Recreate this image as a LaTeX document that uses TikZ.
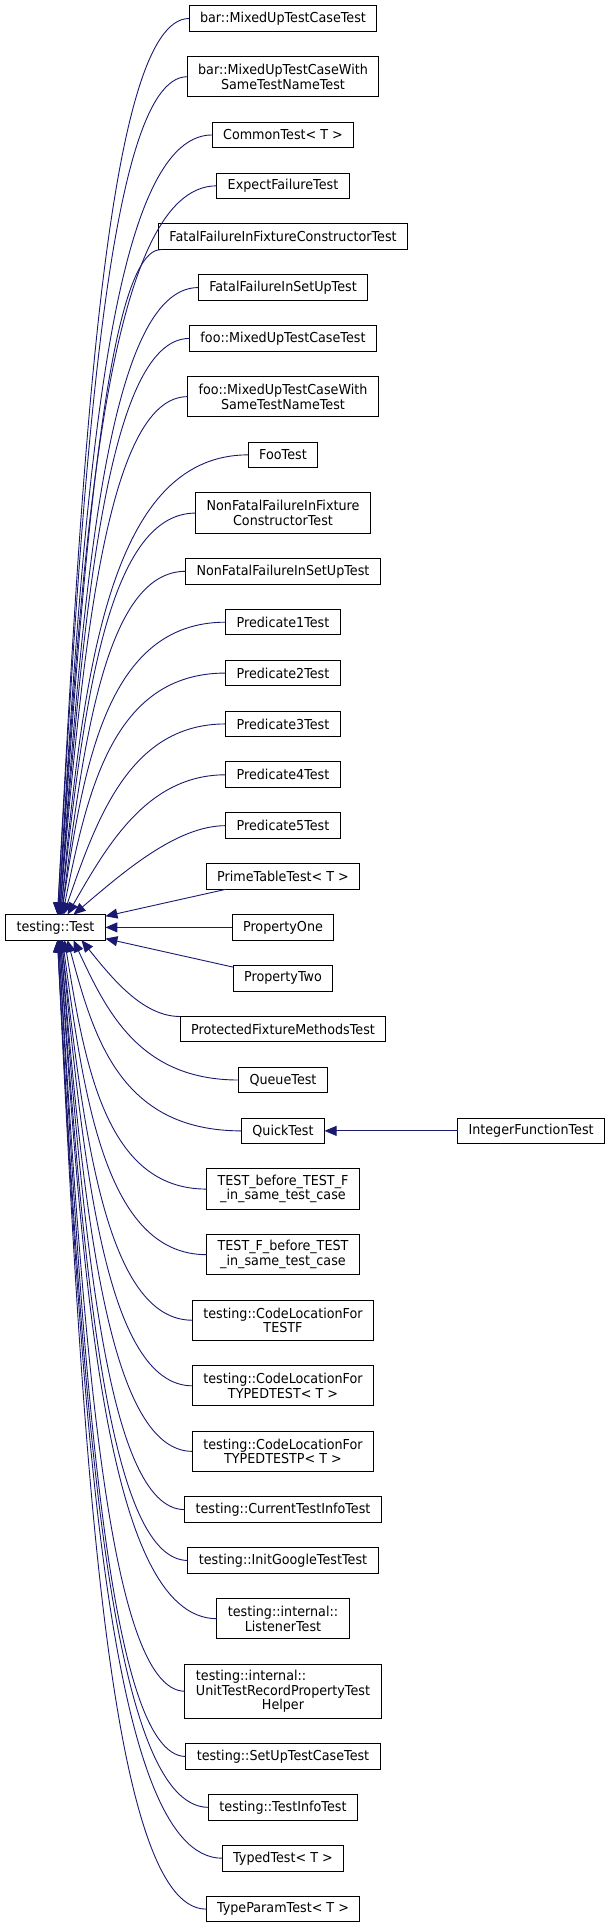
\documentclass[tikz,border=0pt]{standalone}
\usepackage{fontspec}
\setmainfont{DejaVu Sans}[FakeStretch=0.93]
\usetikzlibrary{arrows.meta, positioning, calc}
\definecolor{edgeblue}{HTML}{191970}

\begin{document}
\begin{tikzpicture}[
    x=1pt, y=1pt,
    node distance=25.27pt,
    cls/.style={
        rectangle, draw=black, fill=white, line width=1pt, outer sep=0pt,
        inner xsep=11pt, inner ysep=2pt, minimum height=25.6pt,
        align=center, font=\fontsize{13.7}{14.6}\selectfont
    },
    cls2/.style={cls, minimum height=40.3pt},
    cls3/.style={cls, minimum height=54.3pt},
    arrow/.style={-{Triangle[length=12pt, width=10pt]}, line width=0.9pt, draw=edgeblue}
]

\useasboundingbox (0,0) rectangle (612,-1928);

% Derived classes, top to bottom
\node[cls] (bar) at (283,-18.5) {bar::MixedUpTestCaseTest};
\node[cls2, below=of bar] (barsame) {bar::MixedUpTestCaseWith\\SameTestNameTest};
\node[cls, below=of barsame] (common) {CommonTest< T >};
\node[cls, below=of common] (expect) {ExpectFailureTest};
\node[cls, below=of expect] (fatalctor) {FatalFailureInFixtureConstructorTest};
\node[cls, below=of fatalctor] (fatalsetup) {FatalFailureInSetUpTest};
\node[cls, below=of fatalsetup] (foo) {foo::MixedUpTestCaseTest};
\node[cls2, below=of foo] (foosame) {foo::MixedUpTestCaseWith\\SameTestNameTest};
\node[cls, below=of foosame] (footest) {FooTest};
\node[cls2, below=of footest] (nonfatalctor) {NonFatalFailureInFixture\\ConstructorTest};
\node[cls, below=of nonfatalctor] (nonfatalsetup) {NonFatalFailureInSetUpTest};
\node[cls, below=of nonfatalsetup] (pred1) {Predicate1Test};
\node[cls, below=of pred1] (pred2) {Predicate2Test};
\node[cls, below=of pred2] (pred3) {Predicate3Test};
\node[cls, below=of pred3] (pred4) {Predicate4Test};
\node[cls, below=of pred4] (pred5) {Predicate5Test};
\node[cls, below=of pred5] (prime) {PrimeTableTest< T >};
\node[cls, below=of prime] (propone) {PropertyOne};
\node[cls, below=of propone] (proptwo) {PropertyTwo};
\node[cls, below=of proptwo] (protected) {ProtectedFixtureMethodsTest};
\node[cls, below=of protected] (queue) {QueueTest};
\node[cls, below=of queue] (quick) {QuickTest};
\node[cls2, below=of quick] (testbefore) {TEST\_before\_TEST\_F\\\_in\_same\_test\_case};
\node[cls2, below=of testbefore] (testfbefore) {TEST\_F\_before\_TEST\\\_in\_same\_test\_case};
\node[cls2, below=of testfbefore] (codetestf) {testing::CodeLocationFor\\TESTF};
\node[cls2, below=of codetestf] (codetyped) {testing::CodeLocationFor\\TYPEDTEST< T >};
\node[cls2, below=of codetyped] (codetypedp) {testing::CodeLocationFor\\TYPEDTESTP< T >};
\node[cls, below=of codetypedp] (current) {testing::CurrentTestInfoTest};
\node[cls, below=of current] (initgoogle) {testing::InitGoogleTestTest};
\node[cls2, below=of initgoogle] (listener) {testing::internal::\\ListenerTest};
\node[cls3, below=of listener] (unitrecord) {\rlap{testing::internal::}\phantom{UnitTestRecordPropertyTest}\\UnitTestRecordPropertyTest\\Helper};
\node[cls, below=of unitrecord] (setupcase) {testing::SetUpTestCaseTest};
\node[cls, below=of setupcase] (testinfo) {testing::TestInfoTest};
\node[cls, below=of testinfo] (typedtest) {TypedTest< T >};
\node[cls, below=of typedtest] (typeparam) {TypeParamTest< T >};

% Base class and the grandchild
\node[cls] (test) at (55.5,0 |- propone) {testing::Test};
\node[cls, right=133pt of quick] (intfunc) {IntegerFunctionTest};

% Inheritance edges from above
\foreach \n/\a/\d/\p in {bar/west/2/1, barsame/west/2/1, common/west/3/1, expect/west/3/1,
    fatalctor/186/3/1, fatalsetup/west/4/1, foo/west/4/1, foosame/west/4/1,
    footest/west/5/1, nonfatalctor/west/5/1, nonfatalsetup/west/6/1, pred1/west/6/1,
    pred2/west/7/0.95, pred3/west/8/0.8, pred4/west/12/0.65, pred5/west/18/0.4}{
  \coordinate (knee) at ($(\n.\a)!\p!(test.east |- \n.\a)$);
  \coordinate (tip) at ([xshift=\d pt]test.north);
  \draw[arrow] (\n.\a) .. controls (knee) and ($(tip)!0.5!(knee)$) .. (tip);
}

% Straight edges
\draw[arrow] (prime) -- (test);
\draw[arrow] (propone) -- (test);
\draw[arrow] (proptwo) -- (test);

% Inheritance edges from below
\foreach \n/\a/\d/\p in {protected/173/26/0.5, queue/west/18/0.75, quick/west/12/0.9,
    testbefore/west/9/1, testfbefore/west/7/1, codetestf/west/6/1, codetyped/west/6/1,
    codetypedp/west/5/1, current/west/5/1, initgoogle/west/4/1, listener/west/4/1,
    unitrecord/west/3/1, setupcase/west/3/1, testinfo/west/2/1, typedtest/west/2/1,
    typeparam/west/2/1}{
  \coordinate (knee) at ($(\n.\a)!\p!(test.east |- \n.\a)$);
  \coordinate (tip) at ([xshift=\d pt]test.south);
  \draw[arrow] (\n.\a) .. controls (knee) and ($(tip)!0.5!(knee)$) .. (tip);
}

\draw[arrow] (intfunc) -- (quick);

\end{tikzpicture}
\end{document}
